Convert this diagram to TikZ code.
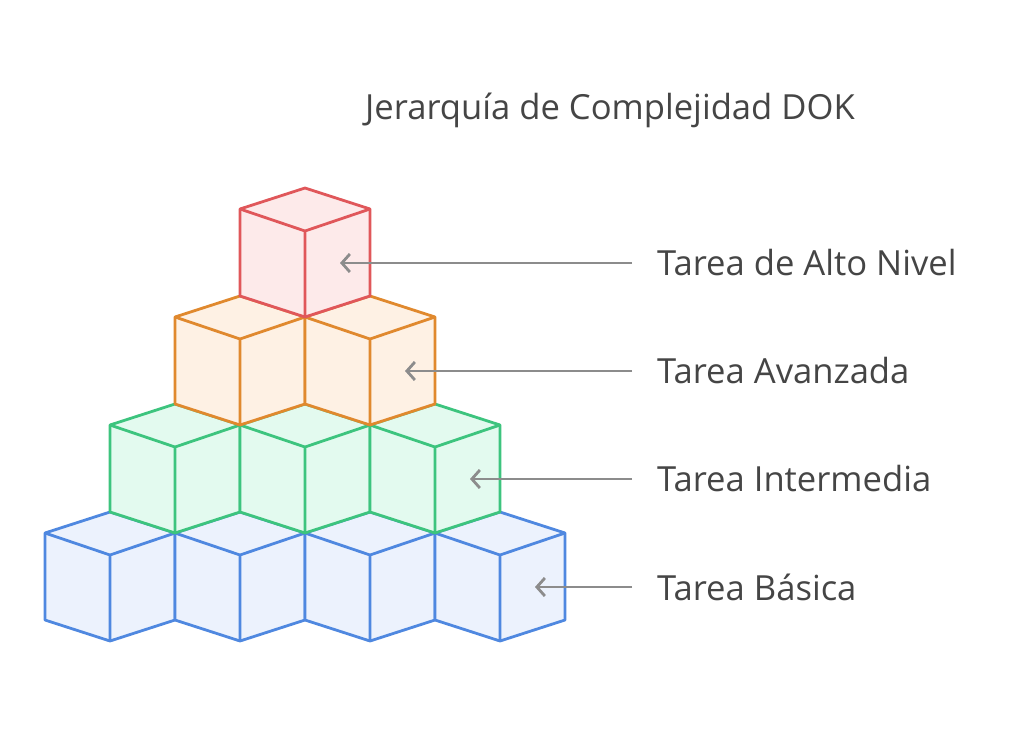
\documentclass[tikz,border=0pt]{standalone}
\usepackage{fontspec}
\setmainfont{Open Sans}
\usetikzlibrary{arrows.meta}
\definecolor{redline}{HTML}{E0575A}\definecolor{redfill}{HTML}{FDEAEA}
\definecolor{orgline}{HTML}{E0892E}\definecolor{orgfill}{HTML}{FEF1E4}
\definecolor{grnline}{HTML}{3DC47E}\definecolor{grnfill}{HTML}{E3FAEF}
\definecolor{bluline}{HTML}{4F88E0}\definecolor{blufill}{HTML}{ECF2FD}
\definecolor{txt}{HTML}{454545}\definecolor{arr}{HTML}{8C8C8C}
% one cube: top vertex at (#1,#2)
\newcommand{\dokcube}[3]{%
  \filldraw[cube, draw=#3line, fill=#3fill]
    (#1,#2) -- ++(65,-21) -- ++(0,-87) -- ++(-65,-21) -- ++(-65,21) -- ++(0,87) -- cycle;
  \draw[cube, draw=#3line] (#1-65,#2-21) -- (#1,#2-43) -- (#1+65,#2-21) (#1,#2-43) -- ++(0,-86);
}
\begin{document}
\begin{tikzpicture}[x=1pt, y=-1pt]
  \tikzset{cube/.style={line width=2.8pt, line join=round},
           lbl/.style={anchor=west, text=txt, font=\fontsize{34.6}{40}\selectfont, inner sep=0pt},
           ptr/.style={-{Straight Barb[length=8pt,width=18pt]}, draw=arr, line width=2.8pt}}
  \useasboundingbox (0,0) rectangle (1024,731);
  \begin{scope}[y=1pt]
  \foreach \x in {110,240,370,500} {\dokcube{\x}{-512}{blu}}
  \foreach \x in {175,305,435} {\dokcube{\x}{-404}{grn}}
  \foreach \x in {240,370} {\dokcube{\x}{-296}{org}}
  \dokcube{305}{-188}{red}
  \end{scope}

  \node[text=txt, font=\fontsize{34.6}{40}\selectfont] (title) at (610,110) {Jerarquía de Complejidad DOK};
  \node[lbl] (alto) at (657,263) {Tarea de Alto Nivel};
  \node[lbl] (avan) at (657,371) {Tarea Avanzada};
  \node[lbl] (inter) at (657,479) {Tarea Intermedia};
  \node[lbl] (basic) at (657,587) {Tarea Básica};
  \coordinate (palto) at (340,263);
  \coordinate (pavan) at (405,371);
  \coordinate (pinter) at (470,479);
  \coordinate (pbasic) at (535,587);
  \draw[ptr] ([xshift=-25pt]alto.west) -- (palto);
  \draw[ptr] ([xshift=-25pt]avan.west) -- (pavan);
  \draw[ptr] ([xshift=-25pt]inter.west) -- (pinter);
  \draw[ptr] ([xshift=-25pt]basic.west) -- (pbasic);
\end{tikzpicture}
\end{document}
